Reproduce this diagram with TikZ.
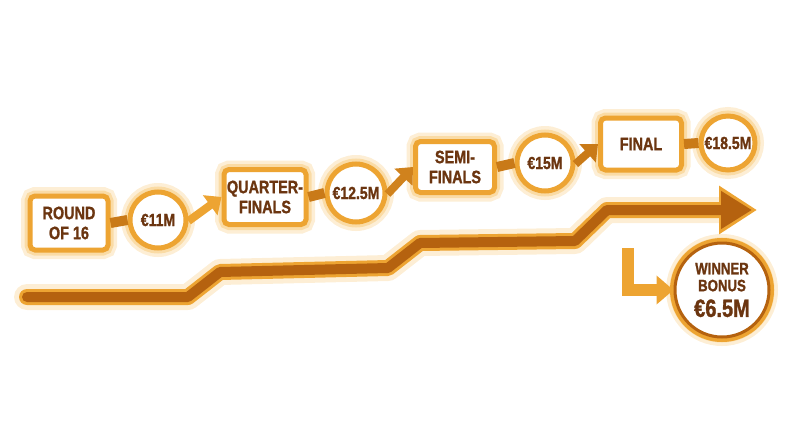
\documentclass[tikz,border=0pt]{standalone}
\usepackage{fontspec}
\newfontfamily\condfont[FakeStretch=0.8, BoldFeatures={FakeBold=1.2}]{Liberation Sans}
\usepackage{tikz}
\usetikzlibrary{arrows.meta, positioning}

\definecolor{prizeorange}{HTML}{EDA432}
\definecolor{prizedark}{HTML}{C97A18}
\definecolor{prizecore}{HTML}{B5620F}
\definecolor{prizebrown}{HTML}{6B3510}
\definecolor{prizeglow}{HTML}{F8CF86}

\begin{document}
\begin{tikzpicture}[x=1pt, y=-1pt,
    glow/.style={preaction={draw=prizeglow, opacity=0.35, line width=18pt},
                 preaction={draw=prizeglow, opacity=0.6, line width=11pt}},
    stage/.style={glow, draw=prizeorange, line width=5pt, fill=white, rounded corners=5pt,
                  text=prizebrown, align=center, inner sep=0pt,
                  font=\condfont\bfseries\fontsize{18}{20}\selectfont},
    prize/.style={glow, circle, draw=prizeorange, line width=5pt, fill=white,
                  text=prizebrown, align=center, inner sep=0pt,
                  font=\condfont\bfseries\fontsize{17.5}{18}\selectfont},
    bar/.style={prizedark, line width=10pt},
    step arrow/.style={line width=8pt, -{Triangle[length=14pt, width=24pt]}}]

    \useasboundingbox (0,0) rectangle (800,447);

    % --- 1. Stages and prize money ---
    \node[stage, minimum width=78pt, minimum height=54pt] (r16) at (69,223) {ROUND\\OF 16};
    \node[prize, minimum size=56pt] (c11) at (158,220) {€11M};

    \node[stage, minimum width=82pt, minimum height=55pt] (qf) at (265,197) {QUARTER-\\FINALS};
    \node[prize, minimum size=58pt] (c125) at (356,193) {€12.5M};

    \node[stage, minimum width=79pt, minimum height=51pt] (sf) at (455,167) {SEMI-\\FINALS};
    \node[prize, minimum size=56pt] (c15) at (545,163) {€15M};

    \node[stage, minimum width=81pt, minimum height=52pt] (fin) at (641,144) {FINAL};
    \node[prize, minimum size=54pt] (c185) at (728,143) {€18.5M};

    % --- 2. Links between stage and prize ---
    \draw[bar] (r16.east) -- (c11.west);
    \draw[bar] (qf.east) -- (c125.west);
    \draw[bar] (sf.east) -- (c15.west);
    \draw[bar] (fin.east) -- (c185.west);

    % Arrows to the next stage
    \draw[step arrow, prizeorange] (c11.-2) -- (qf.west);
    \draw[step arrow, prizedark!80!prizeorange] (c125.-2) -- (sf.west);
    \draw[step arrow, prizedark] (c15.-2) -- (fin.west);

    % --- 3. Rising timeline ---
    \def\tline{(27,297) -- (188,297) -- (220,272) -- (388,268) -- (420,243)
               -- (575,241) -- (607,210) -- (725,210)}
    \draw[prizeglow, opacity=0.35, line width=26pt, line join=round, line cap=round] \tline;
    \draw[prizeorange, line width=16pt, line join=round, line cap=round,
          -{Triangle[length=38pt, width=46pt]}]
        (27,297) -- (188,297) -- (220,272) -- (388,268) -- (420,243)
        -- (575,241) -- (607,210) -- (757,210);
    \draw[prizecore, line width=10pt, line join=round, line cap=round,
          -{Triangle[length=31pt, width=36pt]}]
        (27,297) -- (188,297) -- (220,272) -- (388,268) -- (420,243)
        -- (575,241) -- (607,210) -- (752,210);

    % --- 4. Winner bonus ---
    \node[prize, draw=prizecore, line width=3pt, minimum size=94pt,
          preaction={draw=prizeorange, line width=10pt},
          font=\condfont\bfseries\fontsize{16.5}{17}\selectfont] (bonus) at (722,290)
        {WINNER\\BONUS\\[7pt]\fontsize{25}{25}\selectfont €6.5M};
    \coordinate (bend) at (628,248);
    \draw[prizeorange, line width=12pt,
          -{Triangle[length=17pt, width=28pt]}]
        (bend) |- (bonus.west);

\end{tikzpicture}
\end{document}
